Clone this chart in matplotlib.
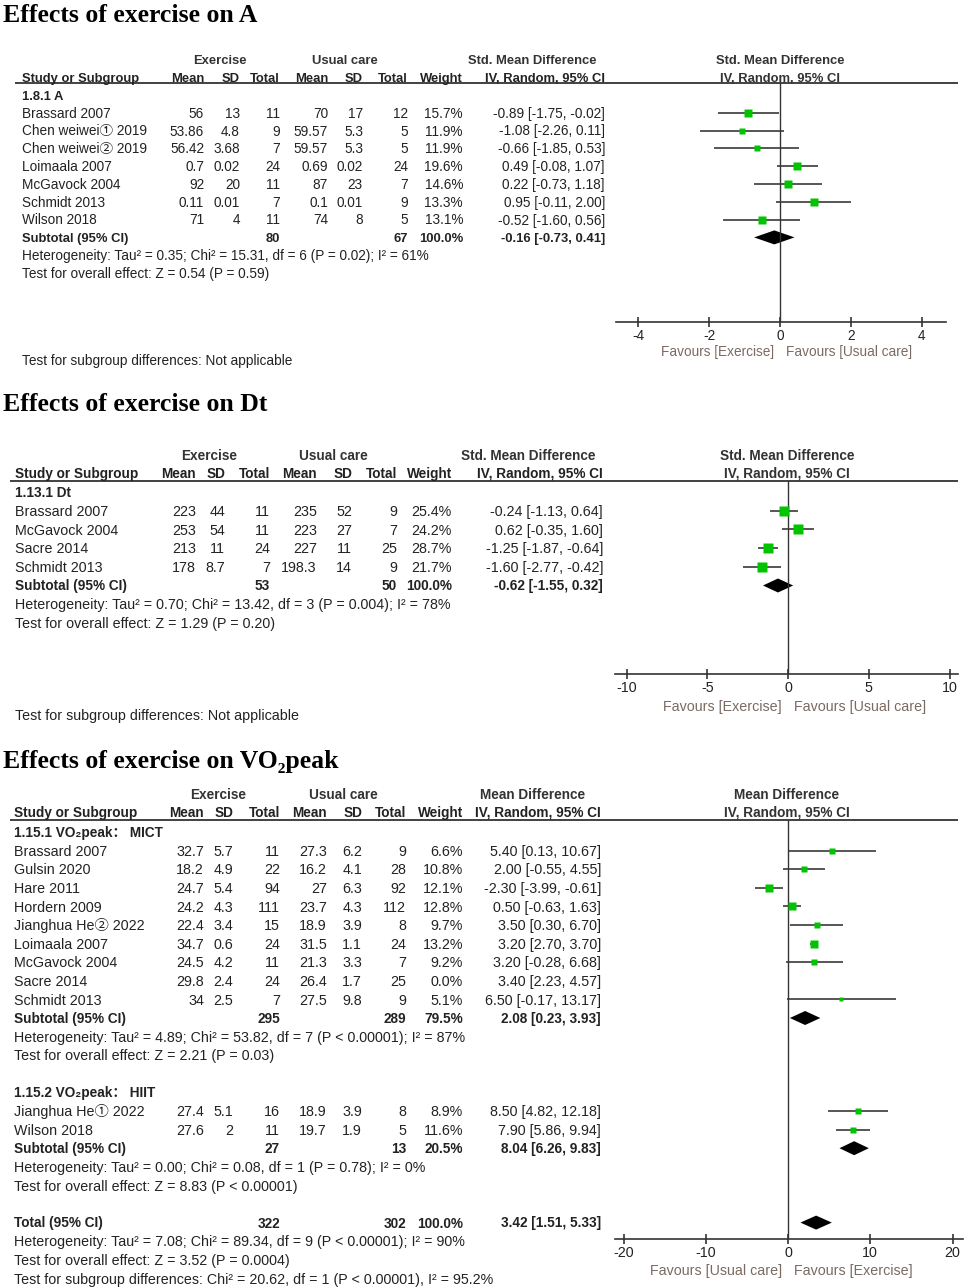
import numpy as np
import matplotlib
matplotlib.use('Agg')
import matplotlib.pyplot as plt
from matplotlib.transforms import blended_transform_factory

W, H = 976, 1287
SANS = ['Liberation Sans', 'Noto Sans CJK SC', 'DejaVu Sans']
SERIF = ['Liberation Serif', 'DejaVu Serif']
TXT = '#222222'
FAV = '#7a6a62'
GREEN = '#00c400'
LINE = '#333333'

# ---- Effects on A (std. mean difference) ----
A_studies = ["Brassard 2007", "Chen weiwei\u2460 2019", "Chen weiwei\u2461 2019", "Loimaala 2007",
             "McGavock 2004", "Schmidt 2013", "Wilson 2018"]
A_exp_mean = [56, 53.86, 56.42, 0.7, 92, 0.11, 71]
A_exp_sd = [13, 4.8, 3.68, 0.02, 20, 0.01, 4]
A_exp_n = [11, 9, 7, 24, 11, 7, 11]
A_ctl_mean = [70, 59.57, 59.57, 0.69, 87, 0.1, 74]
A_ctl_sd = [17, 5.3, 5.3, 0.02, 23, 0.01, 8]
A_ctl_n = [12, 5, 5, 24, 7, 9, 5]
A_weight = [15.7, 11.9, 11.9, 19.6, 14.6, 13.3, 13.1]
A_est = [-0.89, -1.08, -0.66, 0.49, 0.22, 0.95, -0.52]
A_lo = [-1.75, -2.26, -1.85, -0.08, -0.73, -0.11, -1.60]
A_hi = [-0.02, 0.11, 0.53, 1.07, 1.18, 2.00, 0.56]
A_sub = [80, 67, 100.0, -0.16, -0.73, 0.41]
A_het = "Heterogeneity: Tau\u00b2 = 0.35; Chi\u00b2 = 15.31, df = 6 (P = 0.02); I\u00b2 = 61%"
A_z = "Test for overall effect: Z = 0.54 (P = 0.59)"
A_ticks = [-4, -2, 0, 2, 4]

# ---- Effects on Dt ----
D_studies = ["Brassard 2007", "McGavock 2004", "Sacre 2014", "Schmidt 2013"]
D_exp_mean = [223, 253, 213, 178]
D_exp_sd = [44, 54, 11, 8.7]
D_exp_n = [11, 11, 24, 7]
D_ctl_mean = [235, 223, 227, 198.3]
D_ctl_sd = [52, 27, 11, 14]
D_ctl_n = [9, 7, 25, 9]
D_weight = [25.4, 24.2, 28.7, 21.7]
D_est = [-0.24, 0.62, -1.25, -1.60]
D_lo = [-1.13, -0.35, -1.87, -2.77]
D_hi = [0.64, 1.60, -0.64, -0.42]
D_sub = [53, 50, 100.0, -0.62, -1.55, 0.32]
D_het = "Heterogeneity: Tau\u00b2 = 0.70; Chi\u00b2 = 13.42, df = 3 (P = 0.004); I\u00b2 = 78%"
D_z = "Test for overall effect: Z = 1.29 (P = 0.20)"
D_ticks = [-10, -5, 0, 5, 10]

# ---- Effects on VO2peak (mean difference) ----
M_studies = ["Brassard 2007", "Gulsin 2020", "Hare 2011", "Hordern 2009", "Jianghua He\u2461 2022",
             "Loimaala 2007", "McGavock 2004", "Sacre 2014", "Schmidt 2013"]
M_exp_mean = [32.7, 18.2, 24.7, 24.2, 22.4, 34.7, 24.5, 29.8, 34]
M_exp_sd = [5.7, 4.9, 5.4, 4.3, 3.4, 0.6, 4.2, 2.4, 2.5]
M_exp_n = [11, 22, 94, 111, 15, 24, 11, 24, 7]
M_ctl_mean = [27.3, 16.2, 27, 23.7, 18.9, 31.5, 21.3, 26.4, 27.5]
M_ctl_sd = [6.2, 4.1, 6.3, 4.3, 3.9, 1.1, 3.3, 1.7, 9.8]
M_ctl_n = [9, 28, 92, 112, 8, 24, 7, 25, 9]
M_weight = [6.6, 10.8, 12.1, 12.8, 9.7, 13.2, 9.2, 0.0, 5.1]
M_est = [5.40, 2.00, -2.30, 0.50, 3.50, 3.20, 3.20, 3.40, 6.50]
M_lo = [0.13, -0.55, -3.99, -0.63, 0.30, 2.70, -0.28, 2.23, -0.17]
M_hi = [10.67, 4.55, -0.61, 1.63, 6.70, 3.70, 6.68, 4.57, 13.17]
M_sub = [295, 289, 79.5, 2.08, 0.23, 3.93]
M_het = "Heterogeneity: Tau\u00b2 = 4.89; Chi\u00b2 = 53.82, df = 7 (P < 0.00001); I\u00b2 = 87%"
M_z = "Test for overall effect: Z = 2.21 (P = 0.03)"

H_studies = ["Jianghua He\u2460 2022", "Wilson 2018"]
H_exp_mean = [27.4, 27.6]
H_exp_sd = [5.1, 2]
H_exp_n = [16, 11]
H_ctl_mean = [18.9, 19.7]
H_ctl_sd = [3.9, 1.9]
H_ctl_n = [8, 5]
H_weight = [8.9, 11.6]
H_est = [8.50, 7.90]
H_lo = [4.82, 5.86]
H_hi = [12.18, 9.94]
H_sub = [27, 13, 20.5, 8.04, 6.26, 9.83]
H_het = "Heterogeneity: Tau\u00b2 = 0.00; Chi\u00b2 = 0.08, df = 1 (P = 0.78); I\u00b2 = 0%"
H_z = "Test for overall effect: Z = 8.83 (P < 0.00001)"

V_total = [322, 302, 100.0, 3.42, 1.51, 5.33]
V_het = "Heterogeneity: Tau\u00b2 = 7.08; Chi\u00b2 = 89.34, df = 9 (P < 0.00001); I\u00b2 = 90%"
V_z = "Test for overall effect: Z = 3.52 (P = 0.0004)"
V_subtest = "Test for subgroup differences: Chi\u00b2 = 20.62, df = 1 (P < 0.00001), I\u00b2 = 95.2%"
V_ticks = [-20, -10, 0, 10, 20]

plt.rcParams['font.family'] = SANS
plt.rcParams['axes.unicode_minus'] = False

fig = plt.figure(figsize=(W / 100, H / 100), dpi=100)
bg = fig.add_axes([0, 0, 1, 1])
bg.set_xlim(0, W)
bg.set_ylim(H, 0)
bg.axis('off')


def fmt(v):
    return '{:g}'.format(v)


def ci_text(e, lo, hi):
    return '{:.2f} [{:.2f}, {:.2f}]'.format(e, lo, hi)


def put(x, y, s, fs, ha='left', bold=False, color=TXT):
    # y is the visual middle of the capitals, in pixels
    bg.text(x, y + 0.5 * fs, s, fontsize=fs, ha=ha, va='baseline',
            fontweight='bold' if bold else 'normal', color=color)


def table_row(y, lay, name, cells, bold=False):
    fs = lay['fsb'] if bold else lay['fs']
    put(lay['name_x'], y, name, fs, bold=bold)
    for x, c in zip(lay['cols'], cells):
        if c != '':
            put(x, y, c, fs, ha='right', bold=bold)


def make_forest(lay, ticks):
    x0, x1 = lay['plot_x']
    y0, y1 = lay['line_y'], lay['axis_y']
    ax = fig.add_axes([x0 / W, 1 - y1 / H, (x1 - x0) / W, (y1 - y0) / H])
    ax.set_xlim((x0 - lay['zero']) / lay['unit'], (x1 - lay['zero']) / lay['unit'])
    ax.set_ylim(y1, y0)
    ax.patch.set_visible(False)
    for s in ('top', 'left', 'right'):
        ax.spines[s].set_visible(False)
    ax.spines['bottom'].set_color(LINE)
    ax.spines['bottom'].set_linewidth(1.2)
    ax.set_yticks([])
    ax.set_xticks(ticks)
    ax.set_xticklabels([str(t) for t in ticks])
    ax.tick_params(axis='x', direction='inout', length=7, width=1.2, color=LINE,
                   pad=1.5, labelsize=lay['fs'], labelcolor=TXT)
    ax.axvline(0, color=LINE, lw=1)
    return ax


def draw_study(ax, y, w, est, lo, hi):
    if w <= 0:
        return
    ax.hlines(y, lo, hi, color='#3a3a3a', lw=1.2)
    ax.plot(est, y, 's', ms=1.45 * np.sqrt(w), color=GREEN, mec='none')


def draw_diamond(ax, y, est, lo, hi, h=7):
    ax.fill([lo, est, hi, est], [y, y - h, y, y + h], color='black', lw=0)


def draw_panel(title, lay, heads, effect, groups, favours, ticks, tail=None):
    bg.text(3, lay['title_y'], title, family=SERIF, fontweight='bold', fontsize=18.5,
            ha='left', va='baseline', color='black')
    fsb = lay['fsb']
    cols = lay['cols']
    for cx, s in zip(heads, ['Exercise', 'Usual care', effect]):
        put(cx, lay['hdr1'], s, fsb, ha='center', bold=True, color='#333333')
    put(lay['plot_c'], lay['hdr1'], effect, fsb, ha='center', bold=True, color='#333333')
    put(lay['plot_c'], lay['hdr2'], 'IV, Random, 95% CI', fsb, ha='center', bold=True, color='#333333')
    table_row(lay['hdr2'], lay, 'Study or Subgroup',
              ['Mean', 'SD', 'Total', 'Mean', 'SD', 'Total', 'Weight', 'IV, Random, 95% CI'], bold=True)
    bg.hlines(lay['line_y'], lay['line_x'][0], lay['line_x'][1], color=LINE, lw=1.3)

    ax = make_forest(lay, ticks)
    i = 0
    for g in groups:
        y = lay['row0'] + i * lay['step']
        put(lay['name_x'], y, g['label'], fsb, bold=True)
        i += 1
        for k in range(len(g['names'])):
            y = lay['row0'] + i * lay['step']
            table_row(y, lay, g['names'][k],
                      [fmt(g['em'][k]), fmt(g['esd'][k]), str(g['en'][k]),
                       fmt(g['cm'][k]), fmt(g['csd'][k]), str(g['cn'][k]),
                       '{:.1f}%'.format(g['w'][k]), ci_text(g['est'][k], g['lo'][k], g['hi'][k])])
            draw_study(ax, y, g['w'][k], g['est'][k], g['lo'][k], g['hi'][k])
            i += 1
        y = lay['row0'] + i * lay['step']
        s = g['sub']
        table_row(y, lay, 'Subtotal (95% CI)',
                  ['', '', str(s[0]), '', '', str(s[1]), '{:.1f}%'.format(s[2]), ci_text(*s[3:])], bold=True)
        draw_diamond(ax, y, s[3], s[4], s[5])
        i += 1
        put(lay['name_x'], lay['row0'] + i * lay['step'], g['het'], lay['fs'])
        i += 1
        put(lay['name_x'], lay['row0'] + i * lay['step'], g['z'], lay['fs'])
        i += 2

    if tail is not None:
        y = lay['row0'] + i * lay['step']
        s = tail['total']
        table_row(y, lay, 'Total (95% CI)',
                  ['', '', str(s[0]), '', '', str(s[1]), '{:.1f}%'.format(s[2]), ci_text(*s[3:])], bold=True)
        draw_diamond(ax, y, s[3], s[4], s[5])
        for j, t in enumerate([tail['het'], tail['z'], tail['subtest']]):
            put(lay['name_x'], lay['row0'] + (i + 1 + j) * lay['step'], t, lay['fs'])
    else:
        put(lay['name_x'], lay['subtest_y'], 'Test for subgroup differences: Not applicable', lay['fs'])

    tr = blended_transform_factory(ax.transData, bg.transData)
    fy = lay['fav_y'] + 0.5 * lay['fs']
    ax.annotate(favours[0], (0, fy), xycoords=tr, xytext=(-4.5, 0), textcoords='offset points',
                ha='right', va='baseline', fontsize=lay['fs'], color=FAV, annotation_clip=False)
    ax.annotate(favours[1], (0, fy), xycoords=tr, xytext=(4.5, 0), textcoords='offset points',
                ha='left', va='baseline', fontsize=lay['fs'], color=FAV, annotation_clip=False)


lay_A = dict(title_y=22, hdr1=59, hdr2=77, line_y=83, line_x=(15, 958), name_x=22,
             cols=[204, 240, 280, 328, 363, 408, 463, 605], fs=9.8, fsb=9.4,
             row0=95, step=17.8, plot_x=(616, 946), zero=780, unit=35.5, axis_y=322,
             plot_c=780, fav_y=351, subtest_y=360)
draw_panel('Effects of exercise on A', lay_A, (220, 345, 532), 'Std. Mean Difference',
           [dict(label='1.8.1 A', names=A_studies, em=A_exp_mean, esd=A_exp_sd, en=A_exp_n,
                 cm=A_ctl_mean, csd=A_ctl_sd, cn=A_ctl_n, w=A_weight, est=A_est, lo=A_lo, hi=A_hi,
                 sub=A_sub, het=A_het, z=A_z)],
           ('Favours [Exercise]', 'Favours [Usual care]'), A_ticks)

lay_D = dict(title_y=411, hdr1=455, hdr2=473, line_y=481, line_x=(10, 958), name_x=15,
             cols=[196, 225, 270, 317, 352, 397, 452, 603], fs=10.3, fsb=9.8,
             row0=492, step=18.7, plot_x=(615, 958), zero=788, unit=16.15, axis_y=674,
             plot_c=787, fav_y=706, subtest_y=715)
draw_panel('Effects of exercise on Dt', lay_D, (209, 333, 528), 'Std. Mean Difference',
           [dict(label='1.13.1 Dt', names=D_studies, em=D_exp_mean, esd=D_exp_sd, en=D_exp_n,
                 cm=D_ctl_mean, csd=D_ctl_sd, cn=D_ctl_n, w=D_weight, est=D_est, lo=D_lo, hi=D_hi,
                 sub=D_sub, het=D_het, z=D_z)],
           ('Favours [Exercise]', 'Favours [Usual care]'), D_ticks)

lay_V = dict(title_y=768, hdr1=794, hdr2=812, line_y=820, line_x=(10, 958), name_x=14,
             cols=[204, 233, 280, 327, 362, 406, 463, 601], fs=10.3, fsb=9.8,
             row0=832, step=18.6, plot_x=(615, 963), zero=788, unit=8.225, axis_y=1239,
             plot_c=787, fav_y=1270)
draw_panel('Effects of exercise on VO\u2082peak', lay_V, (218, 343, 533), 'Mean Difference',
           [dict(label='1.15.1 VO\u2082peak\uff1a MICT', names=M_studies, em=M_exp_mean, esd=M_exp_sd,
                 en=M_exp_n, cm=M_ctl_mean, csd=M_ctl_sd, cn=M_ctl_n, w=M_weight, est=M_est,
                 lo=M_lo, hi=M_hi, sub=M_sub, het=M_het, z=M_z),
            dict(label='1.15.2 VO\u2082peak\uff1a HIIT', names=H_studies, em=H_exp_mean, esd=H_exp_sd,
                 en=H_exp_n, cm=H_ctl_mean, csd=H_ctl_sd, cn=H_ctl_n, w=H_weight, est=H_est,
                 lo=H_lo, hi=H_hi, sub=H_sub, het=H_het, z=H_z)],
           ('Favours [Usual care]', 'Favours [Exercise]'), V_ticks,
           tail=dict(total=V_total, het=V_het, z=V_z, subtest=V_subtest))

fig.savefig('out.png', dpi=100, facecolor='white')
